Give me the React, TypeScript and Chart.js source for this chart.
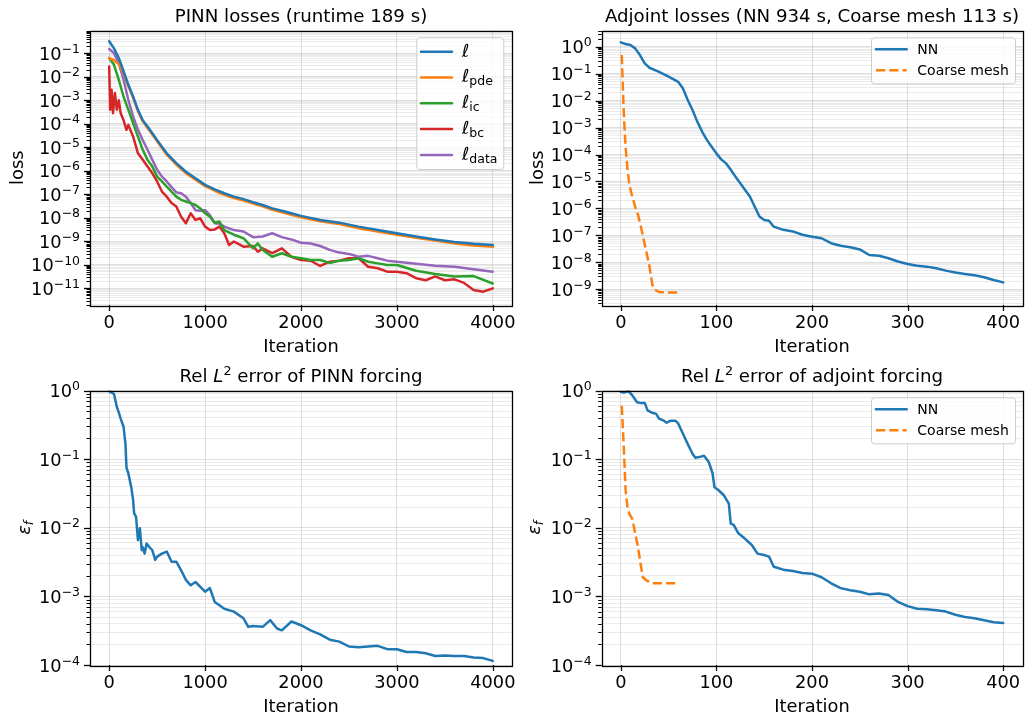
import React, { useEffect, useRef } from "react";
import { Chart, registerables } from "chart.js";

Chart.register(...registerables);

const FAMILY = "'DejaVu Sans', 'Liberation Sans', sans-serif";
Chart.defaults.font.family = FAMILY;

// ---------------- data: PINN losses (top-left) ----------------
const PINN_X_SMOOTH = [0, 50, 100, 150, 200, 250, 300, 350, 400, 500, 600, 700, 800, 900, 1000, 1100, 1200, 1300, 1400, 1500, 1600, 1700, 1800, 1900, 2000, 2200, 2400, 2600, 2800, 3000, 3200, 3400, 3600, 3800, 4000];
const LOSS_TOTAL = [3.2e-1, 1.6e-1, 6.2e-2, 1.7e-2, 4.5e-3, 1.4e-3, 3.9e-4, 1.4e-4, 7.6e-5, 2.0e-5, 5.5e-6, 2.1e-6, 9.1e-7, 4.8e-7, 2.5e-7, 1.6e-7, 1.1e-7, 7.9e-8, 6.2e-8, 4.6e-8, 3.5e-8, 2.5e-8, 2.0e-8, 1.55e-8, 1.2e-8, 8.1e-9, 6.2e-9, 4.2e-9, 3.0e-9, 2.2e-9, 1.6e-9, 1.2e-9, 9.3e-10, 7.8e-10, 6.9e-10];
const LOSS_PDE = [6.2e-2, 5.0e-2, 3.5e-2, 1.4e-2, 3.9e-3, 1.26e-3, 3.4e-4, 1.26e-4, 6.6e-5, 1.78e-5, 4.8e-6, 1.8e-6, 7.9e-7, 4.2e-7, 2.2e-7, 1.41e-7, 9.5e-8, 6.9e-8, 5.4e-8, 4.0e-8, 3.1e-8, 2.2e-8, 1.7e-8, 1.35e-8, 1.05e-8, 7.1e-9, 5.4e-9, 3.6e-9, 2.6e-9, 1.9e-9, 1.4e-9, 1.07e-9, 8.1e-10, 6.6e-10, 5.9e-10];

const PINN_X_DATA = [0, 50, 100, 150, 200, 250, 300, 350, 400, 450, 500, 550, 600, 650, 700, 750, 800, 850, 900, 950, 1000, 1050, 1100, 1150, 1200, 1300, 1400, 1500, 1600, 1700, 1800, 1900, 2000, 2100, 2200, 2300, 2400, 2500, 2600, 2700, 2800, 2900, 3000, 3200, 3400, 3600, 3800, 4000];
const LOSS_DATA = [1.5e-1, 1.0e-1, 3.7e-2, 7.4e-3, 1.02e-3, 2.0e-4, 5.5e-5, 2.0e-5, 7.8e-6, 2.9e-6, 1.1e-6, 5.6e-7, 3.5e-7, 2.0e-7, 1.2e-7, 1.1e-7, 7.9e-8, 4.2e-8, 2.1e-8, 2.0e-8, 2.1e-8, 1.3e-8, 5.9e-9, 5.5e-9, 4.2e-9, 3.0e-9, 2.6e-9, 1.5e-9, 1.6e-9, 2.2e-9, 1.5e-9, 1.2e-9, 8.7e-10, 8.1e-10, 6.3e-10, 4.3e-10, 3.3e-10, 2.9e-10, 2.2e-10, 2.4e-10, 1.9e-10, 1.5e-10, 1.35e-10, 1.1e-10, 9.1e-11, 8.3e-11, 6.5e-11, 5.1e-11];

const PINN_X_IC = [0, 50, 100, 150, 200, 250, 300, 350, 400, 450, 500, 550, 600, 650, 700, 750, 800, 850, 900, 950, 1000, 1050, 1100, 1150, 1200, 1300, 1400, 1500, 1550, 1600, 1700, 1800, 1900, 2000, 2100, 2200, 2300, 2400, 2500, 2600, 2700, 2800, 2900, 3000, 3200, 3400, 3600, 3800, 4000];
const LOSS_IC = [6.2e-2, 3.2e-2, 7.4e-3, 1.4e-3, 3.9e-4, 1.05e-4, 2.8e-5, 7.8e-6, 2.9e-6, 1.5e-6, 5.6e-7, 3.5e-7, 2.1e-7, 1.3e-7, 7.9e-8, 5.8e-8, 4.9e-8, 4.2e-8, 3.5e-8, 2.5e-8, 1.55e-8, 1.1e-8, 6.2e-9, 6.9e-9, 3.0e-9, 1.9e-9, 1.35e-9, 5.0e-10, 8.1e-10, 4.3e-10, 2.2e-10, 3.1e-10, 2.2e-10, 1.9e-10, 1.6e-10, 1.6e-10, 1.2e-10, 1.5e-10, 1.6e-10, 1.9e-10, 1.35e-10, 1.15e-10, 9.8e-11, 9.8e-11, 5.6e-11, 4.1e-11, 3.2e-11, 3.3e-11, 1.6e-11];

const PINN_X_BC = [0, 10, 25, 40, 60, 80, 100, 120, 150, 180, 200, 250, 300, 350, 400, 450, 500, 550, 600, 650, 700, 750, 800, 850, 900, 950, 1000, 1050, 1100, 1150, 1200, 1250, 1300, 1400, 1500, 1550, 1600, 1700, 1800, 1900, 2000, 2100, 2200, 2300, 2400, 2500, 2600, 2700, 2800, 2900, 3000, 3100, 3200, 3300, 3400, 3500, 3600, 3700, 3800, 3900, 4000];
const LOSS_BC = [2.7e-2, 3.9e-4, 2.8e-3, 2.8e-4, 2.0e-3, 3.9e-4, 1.0e-3, 2.8e-4, 1.4e-4, 5.5e-5, 8.9e-5, 2.8e-5, 5.5e-6, 2.9e-6, 1.5e-6, 7.8e-7, 3.5e-7, 1.3e-7, 7.9e-8, 4.2e-8, 3.0e-8, 1.1e-8, 5.9e-9, 1.55e-8, 8.1e-9, 9.5e-9, 4.2e-9, 3.0e-9, 3.2e-9, 4.2e-9, 2.2e-9, 6.9e-10, 9.8e-10, 5.9e-10, 6.3e-10, 3.6e-10, 5.0e-10, 3.1e-10, 5.0e-10, 2.2e-10, 1.6e-10, 1.5e-10, 8.9e-11, 1.35e-10, 1.5e-10, 1.9e-10, 1.9e-10, 8.3e-11, 7.1e-11, 5.1e-11, 5.1e-11, 4.4e-11, 2.7e-11, 2.2e-11, 3.2e-11, 2.2e-11, 2.4e-11, 1.7e-11, 8.5e-12, 7.2e-12, 1.0e-11];

// ---------------- data: adjoint losses (top-right) ----------------
const ADJ_X_NN = [0, 5, 10, 15, 20, 25, 30, 40, 50, 60, 65, 70, 75, 80, 85, 90, 95, 100, 105, 110, 115, 120, 125, 130, 135, 140, 145, 150, 155, 160, 170, 180, 190, 200, 210, 220, 230, 240, 250, 260, 270, 280, 290, 300, 310, 320, 330, 340, 350, 360, 370, 380, 390, 400];
const ADJ_LOSS_NN = [1.45, 1.26, 1.15, 0.87, 0.49, 0.24, 0.166, 0.117, 0.078, 0.05, 0.028, 0.0105, 0.0045, 0.00166, 0.00071, 0.00035, 0.000195, 0.00011, 6.6e-5, 4.7e-5, 2.7e-5, 1.5e-5, 8.5e-6, 4.8e-6, 2.75e-6, 1.17e-6, 5.0e-7, 3.7e-7, 3.5e-7, 2.1e-7, 1.6e-7, 1.4e-7, 1.05e-7, 8.9e-8, 7.8e-8, 5.1e-8, 4.1e-8, 3.6e-8, 3.0e-8, 1.86e-8, 1.74e-8, 1.41e-8, 1.07e-8, 8.7e-9, 7.4e-9, 6.9e-9, 6.0e-9, 4.9e-9, 4.2e-9, 3.7e-9, 3.3e-9, 2.8e-9, 2.2e-9, 1.8e-9];
const ADJ_X_COARSE = [1, 2, 3, 4, 5, 7, 9, 12, 15, 18, 21, 24, 27, 30, 33, 36, 40, 50, 60];
const ADJ_LOSS_COARSE = [0.49, 0.044, 0.0045, 8.1e-4, 1.95e-4, 2.7e-5, 7.4e-6, 2.75e-6, 1.17e-6, 5.8e-7, 2.1e-7, 6.8e-8, 2.2e-8, 6.9e-9, 1.45e-9, 9.5e-10, 7.9e-10, 7.6e-10, 7.6e-10];

// ---------------- data: PINN forcing error (bottom-left) ----------------
const PINN_ERR_X = [0, 50, 80, 100, 120, 150, 170, 180, 200, 230, 250, 260, 280, 300, 320, 340, 350, 370, 390, 420, 450, 480, 500, 550, 600, 650, 700, 750, 800, 850, 900, 950, 1000, 1050, 1100, 1150, 1200, 1300, 1400, 1450, 1500, 1600, 1680, 1750, 1800, 1900, 2000, 2100, 2200, 2300, 2400, 2500, 2600, 2700, 2800, 2900, 3000, 3100, 3200, 3300, 3400, 3500, 3600, 3700, 3800, 3900, 4000];
const PINN_ERR = [0.98, 0.89, 0.575, 0.48, 0.39, 0.295, 0.166, 0.076, 0.062, 0.039, 0.025, 0.0162, 0.0145, 0.0066, 0.0098, 0.0047, 0.0052, 0.0042, 0.0059, 0.0052, 0.0047, 0.0034, 0.0038, 0.0042, 0.0045, 0.0032, 0.0032, 0.0024, 0.00174, 0.00145, 0.00162, 0.00138, 0.00117, 0.00132, 0.00083, 0.00074, 0.00066, 0.0006, 0.00048, 0.00036, 0.00037, 0.00036, 0.00045, 0.00034, 0.00032, 0.00043, 0.00038, 0.00032, 0.00028, 0.000234, 0.000219, 0.000186, 0.000182, 0.000186, 0.00019, 0.00017, 0.00017, 0.000155, 0.000155, 0.000148, 0.000135, 0.000138, 0.000135, 0.000135, 0.000129, 0.000126, 0.000115];

// ---------------- data: adjoint forcing error (bottom-right) ----------------
const ADJ_ERR_X_NN = [0, 3, 8, 12, 17, 20, 25, 28, 32, 37, 40, 45, 48, 52, 57, 60, 65, 70, 75, 78, 82, 87, 92, 96, 98, 102, 108, 113, 115, 118, 123, 130, 137, 143, 150, 155, 160, 170, 180, 190, 200, 210, 220, 230, 240, 250, 260, 270, 280, 290, 300, 310, 320, 330, 340, 350, 360, 370, 380, 390, 400];
const ADJ_ERR_NN = [0.955, 0.933, 0.977, 0.85, 0.676, 0.66, 0.66, 0.513, 0.479, 0.457, 0.389, 0.363, 0.339, 0.363, 0.363, 0.331, 0.234, 0.166, 0.12, 0.105, 0.107, 0.112, 0.091, 0.0617, 0.0389, 0.0355, 0.0295, 0.0224, 0.0115, 0.011, 0.0083, 0.0069, 0.0056, 0.0042, 0.004, 0.0038, 0.0027, 0.00245, 0.00234, 0.00219, 0.00214, 0.0019, 0.00155, 0.00132, 0.00123, 0.00117, 0.00107, 0.0011, 0.00105, 0.00083, 0.00072, 0.00066, 0.00065, 0.00063, 0.0006, 0.00054, 0.0005, 0.00048, 0.00045, 0.00042, 0.00041];
const ADJ_ERR_X_COARSE = [1, 3, 5, 7, 9, 12, 15, 18, 20, 23, 27, 33, 40, 60];
const ADJ_ERR_COARSE = [0.6, 0.16, 0.035, 0.02, 0.0158, 0.0135, 0.0083, 0.0052, 0.0034, 0.0019, 0.0017, 0.00155, 0.00155, 0.00155];

// ---------------- ticks ----------------
const X_TICKS_PINN = [0, 1000, 2000, 3000, 4000];
const X_TICKS_ADJ = [0, 100, 200, 300, 400];
const MINOR_SUBS = [1, 2, 3, 4, 5, 6, 7, 8, 9];

// ---------------- styles ----------------
const BLUE = "#1f77b4";
const ORANGE = "#ff7f0e";
const GREEN = "#2ca02c";
const RED = "#d62728";
const PURPLE = "#9467bd";
const GRID_MAJOR = "rgba(176,176,176,0.42)";
const GRID_MINOR = "rgba(176,176,176,0.26)";
const TICK_SIZE = 17.8;
const TITLE_SIZE = 18.2;

type Seg = { t: string; it?: boolean; sup?: boolean; sub?: boolean };

function expSegs(v: number): Seg[] {
  const e = Math.round(Math.log10(v));
  return [{ t: "10" }, { t: e < 0 ? "\u2212" + String(-e) : String(e), sup: true }];
}

function logTicks(min: number, max: number) {
  const out: { value: number; major: boolean }[] = [];
  const e0 = Math.floor(Math.log10(min));
  const e1 = Math.ceil(Math.log10(max));
  for (let e = e0; e <= e1; e++) {
    for (const m of MINOR_SUBS) {
      const v = m * Math.pow(10, e);
      if (v >= min * (1 - 1e-9) && v <= max * (1 + 1e-9)) out.push({ value: v, major: m === 1 });
    }
  }
  return out;
}

function drawRich(ctx: CanvasRenderingContext2D, segs: Seg[], x: number, y: number, size: number, align: "center" | "left" | "right") {
  const items = segs.map((s) => {
    const sz = s.sup || s.sub ? size * 0.7 : size;
    const font = `${s.it ? "italic " : ""}${sz}px ${FAMILY}`;
    ctx.font = font;
    return { s, font, w: ctx.measureText(s.t).width, dy: s.sup ? -size * 0.38 : s.sub ? size * 0.17 : 0 };
  });
  const total = items.reduce((a, b) => a + b.w, 0);
  let cx = align === "center" ? x - total / 2 : align === "right" ? x - total : x;
  ctx.textAlign = "left";
  ctx.textBaseline = "alphabetic";
  for (const it of items) {
    ctx.font = it.font;
    ctx.fillText(it.s.t, cx, y + it.dy);
    cx += it.w;
  }
}

interface Series { name: Seg[]; x: number[]; y: number[]; color: string; dash?: number[] }
interface LegendCfg { insetRight: number; insetTop: number; w: number; h: number; size: number; row0: number; rowGap: number; lineX: number; lineLen: number; textX: number; baseOff: number }
interface PanelCfg {
  left: number; top: number; width: number; height: number;
  yAxisWidth: number; padRight: number; chartBottom: number;
  xMin: number; xMax: number; xTicks: number[];
  yMin: number; yMax: number;
  title: Seg[]; yTitle: Seg[]; yTitleX: number; xTitlePad: number;
  series: Series[]; legend?: LegendCfg;
}

function makeChart(canvas: HTMLCanvasElement, p: PanelCfg) {
  const deco = {
    id: "deco",
    afterDraw(chart: any) {
      const ctx: CanvasRenderingContext2D = chart.ctx;
      const a = chart.chartArea;
      const xs = chart.scales.x;
      const ys = chart.scales.y;
      ctx.save();
      // tick marks
      ctx.strokeStyle = "#000";
      for (const t of ys.ticks) {
        const y = Math.round(ys.getPixelForValue(t.value)) + 0.5;
        ctx.lineWidth = t.major ? 1.3 : 1;
        const len = t.major ? 6 : 3.5;
        ctx.beginPath();
        ctx.moveTo(a.left - len, y);
        ctx.lineTo(a.left, y);
        ctx.stroke();
      }
      ctx.lineWidth = 1.3;
      for (const t of xs.ticks) {
        const x = Math.round(xs.getPixelForValue(t.value)) + 0.5;
        ctx.beginPath();
        ctx.moveTo(x, a.bottom);
        ctx.lineTo(x, a.bottom + 6);
        ctx.stroke();
      }
      // frame
      ctx.lineWidth = 1.3;
      ctx.strokeRect(Math.round(a.left) + 0.5, Math.round(a.top) + 0.5, Math.round(a.right - a.left), Math.round(a.bottom - a.top));
      ctx.fillStyle = "#000";
      // y tick labels (10 with raised exponent)
      for (const t of ys.ticks) {
        if (!t.major) continue;
        const y = ys.getPixelForValue(t.value);
        drawRich(ctx, expSegs(t.value), a.left - 10, y + 6.5, TICK_SIZE, "right");
      }
      // title
      drawRich(ctx, p.title, (a.left + a.right) / 2, 22.4, TITLE_SIZE, "center");
      // y title
      ctx.save();
      ctx.translate(p.yTitleX, (a.top + a.bottom) / 2);
      ctx.rotate(-Math.PI / 2);
      drawRich(ctx, p.yTitle, 0, 0, TICK_SIZE, "center");
      ctx.restore();
      // legend
      const L = p.legend;
      if (L) {
        const bx = a.right - L.insetRight - L.w;
        const by = a.top + L.insetTop;
        ctx.beginPath();
        ctx.roundRect(bx + 0.5, by + 0.5, L.w, L.h, 3);
        ctx.fillStyle = "rgba(255,255,255,0.8)";
        ctx.fill();
        ctx.strokeStyle = "#cccccc";
        ctx.lineWidth = 1;
        ctx.stroke();
        p.series.forEach((s, i) => {
          const ry = by + L.row0 + i * L.rowGap;
          ctx.beginPath();
          ctx.strokeStyle = s.color;
          ctx.lineWidth = 2.5;
          ctx.setLineDash(s.dash || []);
          ctx.lineCap = s.dash ? "butt" : "round";
          ctx.moveTo(bx + L.lineX, ry);
          ctx.lineTo(bx + L.lineX + L.lineLen, ry);
          ctx.stroke();
          ctx.setLineDash([]);
          ctx.fillStyle = "#000";
          drawRich(ctx, s.name, bx + L.textX, ry + L.baseOff, L.size, "left");
        });
      }
      ctx.restore();
    },
  };

  return new Chart(canvas, {
    type: "line",
    data: {
      datasets: p.series.map((s) => ({
        label: s.name.map((g) => g.t).join(""),
        data: s.x.map((x, i) => ({ x, y: s.y[i] })),
        borderColor: s.color,
        backgroundColor: s.color,
        borderWidth: 2.5,
        borderDash: s.dash || [],
        borderJoinStyle: "round",
        borderCapStyle: s.dash ? "butt" : "round",
        pointRadius: 0,
        fill: false,
        tension: 0,
      })),
    },
    options: {
      responsive: false,
      animation: false,
      events: [],
      layout: { padding: { left: 0, top: 30.5, right: p.padRight, bottom: 0 } },
      plugins: { legend: { display: false }, title: { display: false }, tooltip: { enabled: false } },
      scales: {
        x: {
          type: "linear",
          min: p.xMin,
          max: p.xMax,
          afterBuildTicks: (s: any) => {
            s.ticks = p.xTicks.map((v) => ({ value: v }));
          },
          afterFit: (s: any) => {
            s.height = p.height - p.chartBottom;
          },
          grid: { color: GRID_MAJOR, lineWidth: 1, drawTicks: true, tickLength: 6, tickColor: "rgba(0,0,0,0)" },
          border: { display: false },
          ticks: { padding: 2, color: "#000", font: { size: TICK_SIZE, family: FAMILY }, maxRotation: 0, autoSkip: false, callback: (v: any) => String(v) },
          title: { display: true, text: "Iteration", color: "#000", font: { size: TICK_SIZE, family: FAMILY }, padding: { top: 0, bottom: p.xTitlePad } },
        },
        y: {
          type: "logarithmic",
          min: p.yMin,
          max: p.yMax,
          afterBuildTicks: (s: any) => {
            s.ticks = logTicks(p.yMin, p.yMax);
          },
          afterFit: (s: any) => {
            s.width = p.yAxisWidth;
          },
          grid: {
            color: (c: any) => (c.tick && c.tick.major ? GRID_MAJOR : GRID_MINOR),
            lineWidth: 1,
            drawTicks: true,
            tickLength: 6,
            tickColor: "rgba(0,0,0,0)",
          },
          border: { display: false },
          ticks: {
            display: false,
            autoSkip: false,
          },
        },
      },
    } as any,
    plugins: [deco],
  });
}

const ELL = "\u2113";
const LEG_P1: LegendCfg = { insetRight: 8.7, insetTop: 6.8, w: 87, h: 131.7, size: 17.8, row0: 14.4, rowGap: 25.8, lineX: 4.7, lineLen: 31, textX: 45.7, baseOff: 4.8 };
const LEG_ADJ: LegendCfg = { insetRight: 7.3, insetTop: 6.8, w: 144, h: 46, size: 14, row0: 12, rowGap: 21, lineX: 5, lineLen: 30.7, textX: 46.3, baseOff: 5 };

const PANELS: PanelCfg[] = [
  {
    left: 0, top: 0, width: 540, height: 360, yAxisWidth: 90, padRight: 28, chartBottom: 305,
    xMin: -200, xMax: 4200, xTicks: X_TICKS_PINN, yMin: 1.95e-12, yMax: 0.92,
    title: [{ t: "PINN losses (runtime 189 s)" }], yTitle: [{ t: "loss" }], yTitleX: 23.3, xTitlePad: 1.5,
    series: [
      { name: [{ t: ELL }], x: PINN_X_SMOOTH, y: LOSS_TOTAL, color: BLUE },
      { name: [{ t: ELL }, { t: "pde", sub: true }], x: PINN_X_SMOOTH, y: LOSS_PDE, color: ORANGE },
      { name: [{ t: ELL }, { t: "ic", sub: true }], x: PINN_X_IC, y: LOSS_IC, color: GREEN },
      { name: [{ t: ELL }, { t: "bc", sub: true }], x: PINN_X_BC, y: LOSS_BC, color: RED },
      { name: [{ t: ELL }, { t: "data", sub: true }], x: PINN_X_DATA, y: LOSS_DATA, color: PURPLE },
    ],
    legend: LEG_P1,
  },
  {
    left: 510, top: 0, width: 540, height: 360, yAxisWidth: 91.7, padRight: 27.7, chartBottom: 305,
    xMin: -20, xMax: 420, xTicks: X_TICKS_ADJ, yMin: 2.6e-10, yMax: 4.0,
    title: [{ t: "Adjoint losses (NN 934 s, Coarse mesh 113 s)" }], yTitle: [{ t: "loss" }], yTitleX: 32.7, xTitlePad: 1.5,
    series: [
      { name: [{ t: "NN" }], x: ADJ_X_NN, y: ADJ_LOSS_NN, color: BLUE },
      { name: [{ t: "Coarse mesh" }], x: ADJ_X_COARSE, y: ADJ_LOSS_COARSE, color: ORANGE, dash: [9.25, 4] },
    ],
    legend: LEG_ADJ,
  },
  {
    left: 0, top: 360, width: 540, height: 359, yAxisWidth: 90, padRight: 28, chartBottom: 305,
    xMin: -200, xMax: 4200, xTicks: X_TICKS_PINN, yMin: 1e-4, yMax: 1,
    title: [{ t: "Rel " }, { t: "L", it: true }, { t: "2", sup: true }, { t: " error of PINN forcing" }],
    yTitle: [{ t: "\u03B5", it: true }, { t: "f", it: true, sub: true }], yTitleX: 29.5, xTitlePad: 0.5,
    series: [{ name: [{ t: "err" }], x: PINN_ERR_X, y: PINN_ERR, color: BLUE }],
  },
  {
    left: 510, top: 360, width: 540, height: 359, yAxisWidth: 91.7, padRight: 27.7, chartBottom: 305,
    xMin: -20, xMax: 420, xTicks: X_TICKS_ADJ, yMin: 1e-4, yMax: 1,
    title: [{ t: "Rel " }, { t: "L", it: true }, { t: "2", sup: true }, { t: " error of adjoint forcing" }],
    yTitle: [{ t: "\u03B5", it: true }, { t: "f", it: true, sub: true }], yTitleX: 29.5, xTitlePad: 0.5,
    series: [
      { name: [{ t: "NN" }], x: ADJ_ERR_X_NN, y: ADJ_ERR_NN, color: BLUE },
      { name: [{ t: "Coarse mesh" }], x: ADJ_ERR_X_COARSE, y: ADJ_ERR_COARSE, color: ORANGE, dash: [9.25, 4] },
    ],
    legend: LEG_ADJ,
  },
];

function Panel({ cfg }: { cfg: PanelCfg }) {
  const ref = useRef<HTMLCanvasElement>(null);
  useEffect(() => {
    const chart = makeChart(ref.current as HTMLCanvasElement, cfg);
    return () => chart.destroy();
  }, [cfg]);
  return (
    <canvas
      ref={ref}
      width={cfg.width}
      height={cfg.height}
      style={{ position: "absolute", left: cfg.left, top: cfg.top, width: cfg.width, height: cfg.height }}
    />
  );
}

export default function App() {
  return (
    <div style={{ position: "fixed", left: 0, top: 0, width: 1025, height: 719, overflow: "hidden", background: "#fff" }}>
      {PANELS.map((p, i) => (
        <Panel key={i} cfg={p} />
      ))}
    </div>
  );
}
